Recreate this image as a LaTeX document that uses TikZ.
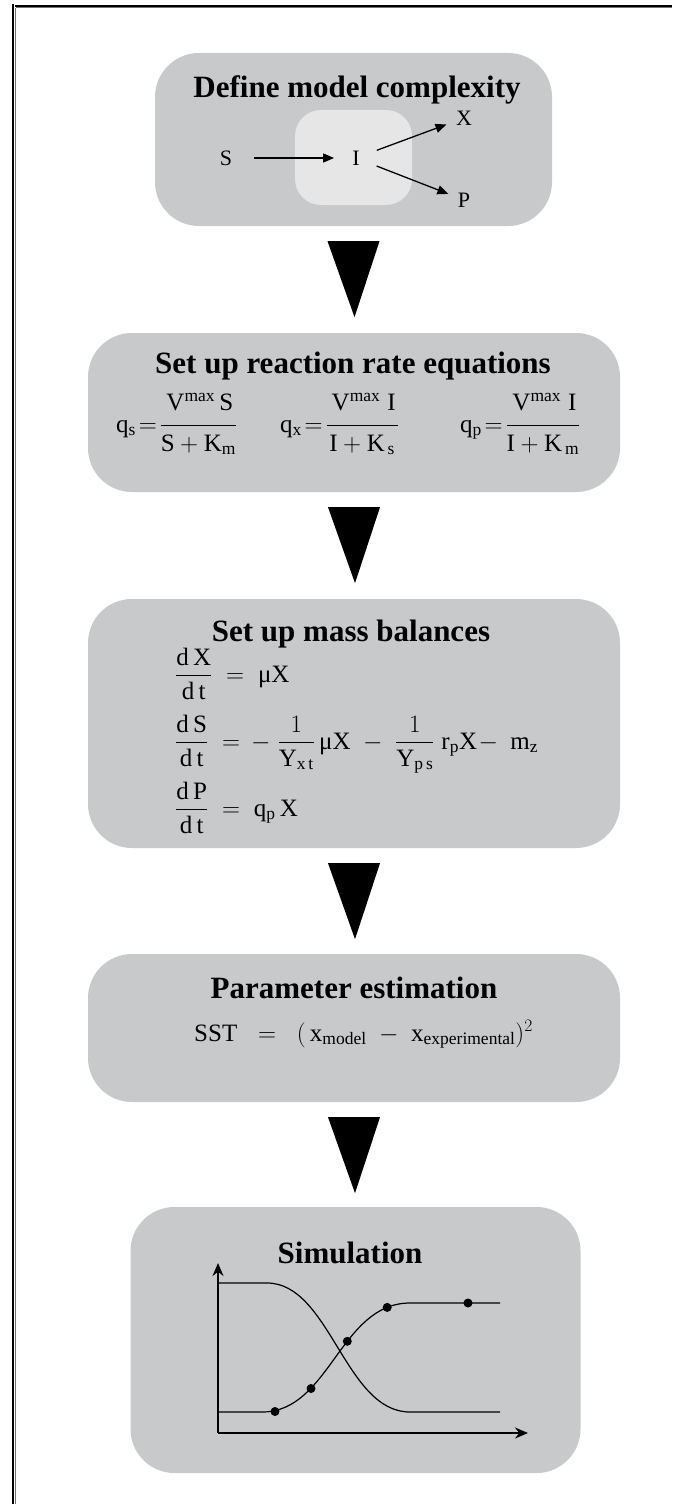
\RequirePackage{fix-cm}
\documentclass[tikz,border=0pt]{standalone}
\usepackage{amsmath}
\usepackage{fontspec}
\setmainfont{Liberation Serif}
\usetikzlibrary{calc,arrows.meta}
\definecolor{boxgray}{HTML}{C8C9CB}
\definecolor{innergray}{HTML}{E6E6E7}
\definecolor{framegray}{HTML}{707070}
\tikzset{
  stagebox/.style={fill=boxgray, rounded corners=44pt, inner sep=0pt, draw=none},
  innerbox/.style={fill=innergray, rounded corners=26pt, inner sep=0pt, draw=none},
  titletext/.style={font=\fontsize{31}{36}\selectfont\bfseries, anchor=base, inner sep=0pt},
  lbl/.style={font=\fontsize{22}{26}\selectfont, inner sep=0pt},
  eqtext/.style={font=\fontsize{25}{30}\selectfont, inner sep=0pt, anchor=base west},
  conn/.style={line width=1.3pt, -{Triangle[length=11pt,width=9pt]}},
  flowtri/.style={fill=black},
  axis/.style={line width=1.4pt, -{Stealth[length=13pt,width=11pt]}},
  curve/.style={line width=1.2pt},
  dot/.style={circle, fill=black, inner sep=0pt, minimum size=9pt}
}
\begin{document}
\begin{tikzpicture}[x=1pt,y=-1pt]
\useasboundingbox (0,0) rectangle (672,1504);
\fill[white] (0,0) rectangle (672,1504);
% frame
\draw[line width=1.3pt] (13,4.5) -- (13,1504);
\draw[line width=1.2pt, framegray] (15.6,7.6) -- (15.6,1504);
\draw[line width=1.6pt] (15,6) -- (672,6);
\draw[line width=1pt, framegray] (15.6,7.9) -- (672,7.9);

% boxes
\node[stagebox, minimum width=397pt, minimum height=173pt] (b1) at (353.5,139.5) {};
\node[stagebox, minimum width=532pt, minimum height=159pt] (b2) at (354,412.5) {};
\node[stagebox, minimum width=532pt, minimum height=249pt] (b3) at (354,723.5) {};
\node[stagebox, minimum width=532pt, minimum height=148pt] (b4) at (354,1028) {};
\node[stagebox, minimum width=450pt, minimum height=266pt] (b5) at (355.5,1340) {};

% flow triangles
\foreach \a/\b in {b1/b2,b2/b3,b3/b4,b4/b5}{
  \fill[flowtri] ($(\a.south)+(-26,15)$) -- ($(\a.south)+(26,15)$) -- ($(\a.south)+(1,91)$) -- cycle;
}

% box 1
\node[innerbox, minimum width=117pt, minimum height=95pt] (inner) at (353.5,157.5) {};
\node[titletext] (t1) at (357,97) {Define model complexity};
\node[lbl] (S) at (226,158) {S};
\node[lbl] (I) at (356,158) {I};
\node[lbl] (X) at (464,118) {X};
\node[lbl] (P) at (464,200) {P};
\draw[conn, shorten <=22pt, shorten >=18pt] (S) -- (I);
\draw[conn, shorten <=18pt, shorten >=10pt] (I) -- (X);
\draw[conn, shorten <=18pt, shorten >=10pt] (I) -- (P);

% box 2
\node[titletext] (t2) at (353,373) {Set up reaction rate equations};
\node[eqtext] (e21) at (116,432) {$\mathrm{q}_{\mathrm{s}}\!=\!\dfrac{\hspace{5pt}\mathrm{V^{max}\,S}\rule[-12pt]{0pt}{12pt}\hspace{2pt}}{\mathrm{S+K_m}\rule{0pt}{22pt}}$};
\node[eqtext] (e22) at (280,432) {$\mathrm{q}_{\mathrm{x}}\!=\!\dfrac{\hspace{5pt}\mathrm{V^{max}\;I}\rule[-12pt]{0pt}{12pt}\hspace{2pt}}{\mathrm{I+K_{\,s}}\rule{0pt}{22pt}}$};
\node[eqtext] (e23) at (460,432) {$\mathrm{q}_{\mathrm{p}}\!=\!\dfrac{\hspace{5pt}\mathrm{V^{max}\;I}\rule[-12pt]{0pt}{12pt}\hspace{2pt}}{\mathrm{I+K_{\,m}}\rule{0pt}{22pt}}$};

% box 3
\node[titletext] (t3) at (351,641) {Set up mass balances};
\node[eqtext] (e31) at (175,682) {$\dfrac{\mathrm{d\,X}}{\mathrm{d\,t}}\;=\;\text{μ}\mathrm{X}$};
\node[eqtext] (e32) at (175,749) {$\dfrac{\mathrm{d\,S}}{\mathrm{d\,t}}\;=\,-\;\dfrac{1}{\mathrm{Y}_{\mathrm{x\,t}}}\,\text{μ}\mathrm{X}\;-\;\dfrac{1}{\mathrm{Y}_{\mathrm{p\,s}}}\;\mathrm{r_pX}\!-\;\mathrm{m}_{\mathrm{z}}$};
\node[eqtext] (e33) at (175,816) {$\dfrac{\mathrm{d\,P}}{\mathrm{d\,t}}\;=\;\mathrm{q_p\,X}$};

% box 4
\node[titletext] (t4) at (354,998) {Parameter estimation};
\node[eqtext] (e4) at (194,1041) {$\mathrm{SST}\;\;=\;\;(\,\mathrm{x}_{\mathrm{model}}\;-\;\mathrm{x}_{\mathrm{experimental}})^{2}$};

% box 5
\node[titletext] (t5) at (350,1263) {Simulation};
\coordinate (origin) at (218,1433);
\coordinate (ytip) at (218,1263);
\coordinate (xtip) at (528,1433);
\draw[axis] (origin) -- (ytip);
\draw[axis] (origin) -- (xtip);
\coordinate (d0) at (218,1283);
\coordinate (d1) at (267,1283);
\coordinate (d2) at (410,1412);
\coordinate (d3) at (500,1412);
\draw[curve] (d0) -- (d1) .. controls (330,1283) and (345,1412) .. (d2) -- (d3);
\coordinate (u0) at (218,1412);
\coordinate (u1) at (262,1412);
\coordinate (u2) at (410,1303);
\coordinate (u3) at (500,1303);
\draw[curve] (u0) -- (u1) .. controls (330,1412) and (340,1303) .. (u2) -- (u3);
\node[dot] (p1) at (275,1411.5) {};
\node[dot] (p2) at (311,1388.5) {};
\node[dot] (p3) at (347.3,1341.3) {};
\node[dot] (p4) at (387.2,1307.4) {};
\node[dot] (p5) at (468,1303) {};
\end{tikzpicture}
\end{document}
